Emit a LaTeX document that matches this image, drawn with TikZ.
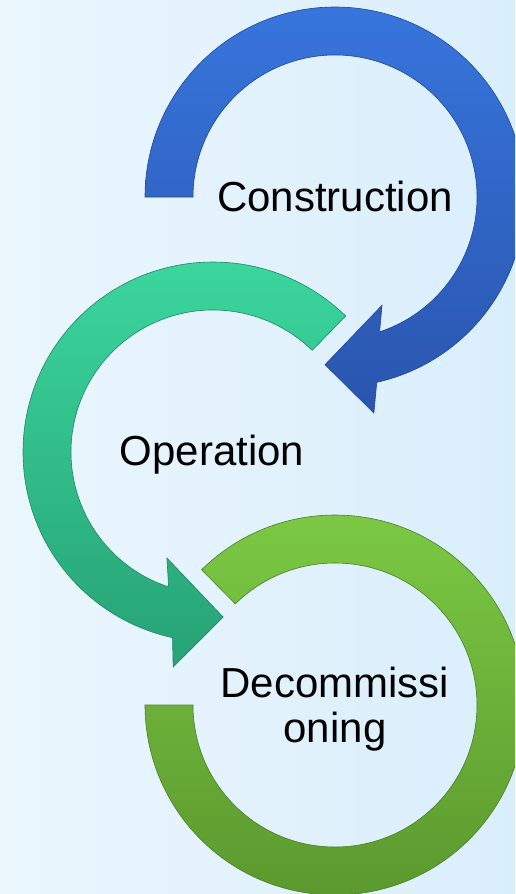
\documentclass[tikz,border=0pt]{standalone}
\usepackage{fontspec}
\setmainfont{Liberation Sans}
\usepackage{tikz}
\definecolor{bgleft}{HTML}{EBF6FD}
\definecolor{bgright}{HTML}{D9EEFC}
\definecolor{blueup}{HTML}{3775DC}
\definecolor{bluedown}{HTML}{2A55AE}
\definecolor{blueedge}{HTML}{24488F}
\definecolor{tealup}{HTML}{3CD89F}
\definecolor{tealdown}{HTML}{27A275}
\definecolor{tealedge}{HTML}{1F8760}
\definecolor{greenup}{HTML}{7DCB45}
\definecolor{greendown}{HTML}{5A962D}
\definecolor{greenedge}{HTML}{4B7F25}

\begin{document}
\begin{tikzpicture}[x=1pt, y=-1pt,
	constructionarrow/.style = {top color=blueup, bottom color=bluedown, draw=blueedge, line width=0.6pt},
	operationarrow/.style = {top color=tealup, bottom color=tealdown, draw=tealedge, line width=0.6pt},
	decomarrow/.style = {top color=greenup, bottom color=greendown, draw=greenedge, line width=0.6pt},
	phase/.style = {font=\fontsize{42}{45}\selectfont, inner sep=0}]
	\useasboundingbox (0,0) rectangle (515,894);
	\clip (0,0) rectangle (515,894);
	\shade[left color=bgleft, right color=bgright] (0,0) rectangle (515,894); %background
	\path[constructionarrow, shift = {(335,197)}] (180:190) arc[start angle=180, end angle=437.3, radius=190] -- (439.8:219.5) -- (453.4:168) -- (426.5:118) -- (431.7:142) arc[start angle=431.7, end angle=180, radius=142] -- cycle; %0
	\path[operationarrow, shift = {(213,452)}] (-45.7:190) arc[start angle=-45.7, end angle=-257.7, radius=190] -- (-259.5:218.7) -- (-273.5:165.3) -- (-246.5:115.6) -- (-251.8:142) arc[start angle=-251.8, end angle=-45.7, radius=142] -- cycle; %1
	\path[decomarrow, shift = {(335,705)}] (225.4:190) arc[start angle=225.4, end angle=540, radius=190] -- (540:142) arc[start angle=540, end angle=225.4, radius=142] -- cycle; %2
	\node[phase, anchor = base] (construction) at (335,211) {Construction};
	\node[phase, anchor = base] (operation) at (212,465) {Operation};
	\node[phase, align = center] (decommissioning) at (335,709) {Decommissi\\oning};
\end{tikzpicture}
\end{document}
